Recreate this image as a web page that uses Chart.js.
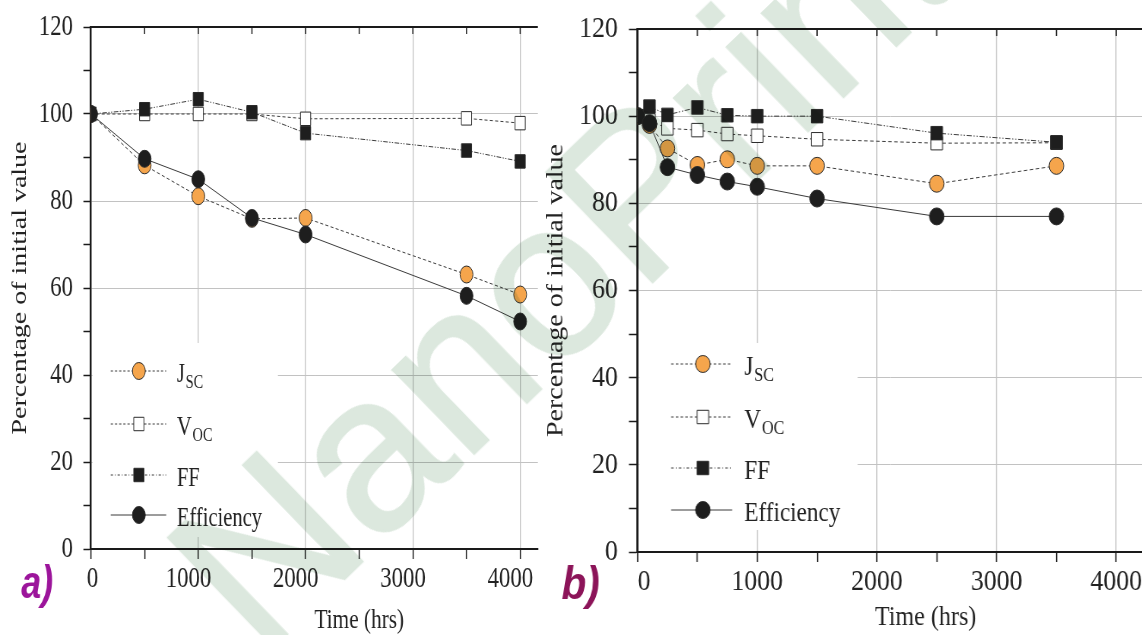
<!DOCTYPE html>
<html>
<head>
<meta charset="utf-8">
<script src="https://cdn.jsdelivr.net/npm/chart.js@4.4.1/dist/chart.umd.min.js"></script>
<style>
  html, body { margin: 0; padding: 0; background: #fff; overflow: hidden; }
  #page { position: relative; width: 1142px; height: 635px; overflow: hidden; isolation: isolate; }
  .panel { position: absolute; top: 0; height: 635px; transform-origin: 0 0; }
  #panelA { left: 0; width: 711px; transform: scaleX(0.76); }
  #panelB { left: 540px; width: 700px; transform: scaleX(0.86); }
  #mark {
    position: absolute; left: 560px; top: 265px;
    transform: translate(-50%, -50%) rotate(-44deg);
    font: 220px "Liberation Sans", sans-serif; line-height: 1;
    color: #dce8de; -webkit-text-stroke: 2.5px #dce8de;
    white-space: nowrap; mix-blend-mode: multiply; pointer-events: none;
  }
</style>
</head>
<body>
<div id="page">
  <div class="panel" id="panelA"><canvas id="chartA"></canvas></div>
  <div class="panel" id="panelB"><canvas id="chartB"></canvas></div>
  <div id="mark">NanoPrint</div>
</div>
<script>
// a) data
const hoursA = [0, 500, 1000, 1500, 2000, 3500, 4000];
const jscA = [100, 88.2, 81.1, 75.9, 76.1, 63.1, 58.5];
const vocA = [100, 100, 100, 100, 98.9, 99, 97.9];
const ffA = [100, 101.1, 103.4, 100.4, 95.6, 91.6, 89.1];
const effA = [100, 89.7, 85, 76.1, 72.3, 58.2, 52.3];

// b) data
const hoursB = [0, 100, 250, 500, 750, 1000, 1500, 2500, 3500];
const jscB = [100, 98, 92.6, 88.8, 90.1, 88.6, 88.6, 84.5, 88.6];
const vocB = [100, 99, 97.2, 96.8, 95.9, 95.5, 94.7, 93.8, 93.9];
const ffB = [100, 102.2, 100.3, 102, 100.2, 100, 100, 96.1, 94];
const effB = [100, 98.4, 88.3, 86.5, 85, 83.8, 81.1, 77, 77];

const seriesLabels = ['J_SC', 'V_OC', 'FF', 'Efficiency'];
const yTicks = [0, 20, 40, 60, 80, 100, 120];
const yTickMarks = [0, 10, 20, 30, 40, 50, 60, 70, 80, 90, 100, 110, 120];
const xTicks = [0, 1000, 2000, 3000, 4000];
const xTickMarks = [0, 500, 1000, 1500, 2000, 2500, 3000, 3500, 4000];

const SERIF = '"Liberation Serif", "Times New Roman", serif';
const GRID = '#c2c2c2';
const INK = '#1a1a1a';
const LINE = '#3a3a3a';

const styles = [
  { dash: [4, 3], shape: 'circle', fill: '#f5a54c', r: 8.5, order: 4 },
  { dash: [4, 3], shape: 'rect', fill: '#ffffff', r: 9.5, order: 3 },
  { dash: [6, 2, 1.5, 2, 1.5, 2], shape: 'rect', fill: '#1e1e1e', r: 9.5, order: 2 },
  { dash: [], shape: 'circle', fill: '#1e1e1e', r: 8.5, order: 1 }
];

function pts(xs, ys) {
  return xs.map((x, i) => ({ x: x, y: ys[i] }));
}

function makeDatasets(hours, series) {
  return series.map((vals, i) => ({
    label: seriesLabels[i],
    data: pts(hours, vals),
    borderColor: LINE,
    borderWidth: 1,
    borderDash: styles[i].dash,
    pointStyle: styles[i].shape,
    pointRadius: styles[i].r,
    pointBackgroundColor: styles[i].fill,
    pointBorderColor: '#2a2a2a',
    pointBorderWidth: 1,
    order: styles[i].order,
    tension: 0
  }));
}

function drawMarker(ctx, st, x, y) {
  ctx.save();
  ctx.fillStyle = st.fill;
  ctx.strokeStyle = '#2a2a2a';
  ctx.lineWidth = 1;
  ctx.beginPath();
  if (st.shape === 'circle') {
    ctx.arc(x, y, st.r, 0, Math.PI * 2);
  } else {
    const h = st.r * Math.SQRT1_2;
    ctx.rect(x - h, y - h, 2 * h, 2 * h);
  }
  ctx.fill();
  ctx.stroke();
  ctx.restore();
}

// legend box, top axis, legend, x title, panel letter
const decoPlugin = {
  id: 'deco',
  beforeDatasetsDraw(chart, args, o) {
    const { ctx, chartArea: ca } = chart;
    ctx.save();
    ctx.fillStyle = '#fff';
    ctx.fillRect(ca.left + 2, o.box[0], o.box[2], o.box[1] - o.box[0]);
    ctx.restore();
  },
  afterDatasetsDraw(chart, args, o) {
    const { ctx, chartArea: ca } = chart;
    const xs = chart.scales.x;
    ctx.save();
    // top axis with inside ticks
    ctx.strokeStyle = INK;
    ctx.lineWidth = 2;
    ctx.beginPath();
    ctx.moveTo(ca.left - 1, ca.top);
    ctx.lineTo(ca.right, ca.top);
    ctx.stroke();
    ctx.lineWidth = 1.5;
    xTickMarks.forEach(v => {
      if (v <= 0) return;
      const px = xs.getPixelForValue(v);
      ctx.beginPath();
      ctx.moveTo(px, ca.top);
      ctx.lineTo(px, ca.top + 7);
      ctx.stroke();
    });

    // legend
    chart.data.datasets.forEach((ds, i) => {
      const st = styles[i];
      const y = o.legendY[i];
      const L = o.legendX.map(v => ca.left + v);
      ctx.save();
      ctx.strokeStyle = LINE;
      ctx.lineWidth = 1;
      ctx.setLineDash(st.dash.length ? [3, 2.5].concat(i === 2 ? [1, 2.5] : []) : []);
      ctx.beginPath();
      ctx.moveTo(L[0], y);
      ctx.lineTo(L[2], y);
      ctx.stroke();
      ctx.restore();
      drawMarker(ctx, st, L[1], y);
      const parts = ds.label.split('_');
      ctx.fillStyle = '#222';
      ctx.textBaseline = 'alphabetic';
      ctx.textAlign = 'left';
      ctx.font = '27px ' + SERIF;
      ctx.fillText(parts[0], L[3], y + 11);
      if (parts[1]) {
        const w = ctx.measureText(parts[0]).width;
        ctx.font = '19px ' + SERIF;
        ctx.fillText(parts[1], L[3] + w + 1, y + 17);
      }
    });

    // x axis title
    ctx.fillStyle = '#222';
    ctx.font = '28px ' + SERIF;
    ctx.textAlign = 'center';
    ctx.textBaseline = 'middle';
    ctx.fillText('Time (hrs)', ca.left + o.titleX, o.titleY);

    // panel letter
    ctx.fillStyle = o.letterColor;
    ctx.font = 'italic bold 47px "Liberation Sans", sans-serif';
    ctx.textAlign = 'left';
    ctx.textBaseline = 'alphabetic';
    ctx.fillText(o.letter, o.letterX, o.letterY);
    ctx.restore();
  }
};

function makeChart(id, hours, series, cfg) {
  return new Chart(document.getElementById(id), {
    type: 'line',
    data: { datasets: makeDatasets(hours, series) },
    plugins: [decoPlugin],
    options: {
      responsive: true,
      maintainAspectRatio: false,
      animation: false,
      layout: {
        autoPadding: false,
        padding: { top: cfg.top, right: cfg.right, bottom: 0, left: 0 }
      },
      plugins: {
        legend: { display: false },
        tooltip: { enabled: false },
        deco: cfg.deco
      },
      scales: {
        x: {
          type: 'linear',
          min: 0,
          max: cfg.xMax,
          afterBuildTicks: s => { s.ticks = xTickMarks.map(v => ({ value: v })); },
          afterFit: s => { s.height = cfg.xHeight; s.paddingLeft = 0; s.paddingRight = 0; },
          ticks: {
            autoSkip: false,
            maxRotation: 0,
            minRotation: 0,
            padding: 2,
            labelOffset: cfg.labelOffset,
            color: '#222',
            font: { family: SERIF, size: 30 },
            callback: v => !xTicks.includes(v) ? '' : (v === 0 ? cfg.zeroLabel : String(v))
          },
          grid: {
            color: c => (c.tick && c.tick.value > 0 && xTicks.includes(c.tick.value)) ? GRID : 'rgba(0,0,0,0)',
            lineWidth: 1.3,
            tickColor: INK,
            tickLength: 10,
            tickWidth: 1.5
          },
          border: { color: INK, width: 2 }
        },
        y: {
          min: 0,
          max: 120,
          afterBuildTicks: s => { s.ticks = yTickMarks.map(v => ({ value: v })); },
          afterFit: s => { s.width = cfg.yWidth; s.paddingTop = 0; s.paddingBottom = 0; },
          ticks: {
            autoSkip: false,
            padding: cfg.yPad,
            color: '#222',
            font: { family: SERIF, size: 30 },
            callback: v => yTicks.includes(v) ? String(v) : ''
          },
          grid: {
            color: c => (c.tick && c.tick.value > 0 && c.tick.value < 120 && yTicks.includes(c.tick.value)) ? GRID : 'rgba(0,0,0,0)',
            tickColor: INK,
            tickLength: 10,
            tickWidth: 1.5
          },
          border: { color: INK, width: 2.5 },
          title: {
            display: true,
            text: 'Percentage of initial value',
            color: '#222',
            font: { family: SERIF, size: 28 },
            padding: { top: cfg.titlePad, bottom: 0 }
          }
        }
      }
    }
  });
}

makeChart('chartA', hoursA, [jscA, vocA, ffA, effA], {
  top: 27, right: 3.3, xHeight: 86, yWidth: 119.7, yPad: 13.7, titlePad: 9.5, xMax: 4165,
  labelOffset: -13, zeroLabel: '\u2002\u20020',
  deco: {
    box: [343, 537, 244],
    legendX: [26, 63, 99, 113],
    legendY: [371, 424, 475, 515],
    titleX: 353, titleY: 621,
    letter: 'a)', letterColor: '#9c159b', letterX: 28, letterY: 598
  }
});

makeChart('chartB', hoursB, [jscB, vocB, ffB, effB], {
  top: 29, right: 0, xHeight: 83, yWidth: 113.4, yPad: 12.9, titlePad: 1.8, xMax: 4215,
  labelOffset: 0, zeroLabel: '\u20020',
  deco: {
    box: [343, 530, 254],
    legendX: [39, 76, 110, 124],
    legendY: [364, 417, 468, 510],
    titleX: 335, titleY: 618,
    letter: 'b)', letterColor: '#8c1459', letterX: 25, letterY: 599
  }
});
</script>
</body>
</html>
